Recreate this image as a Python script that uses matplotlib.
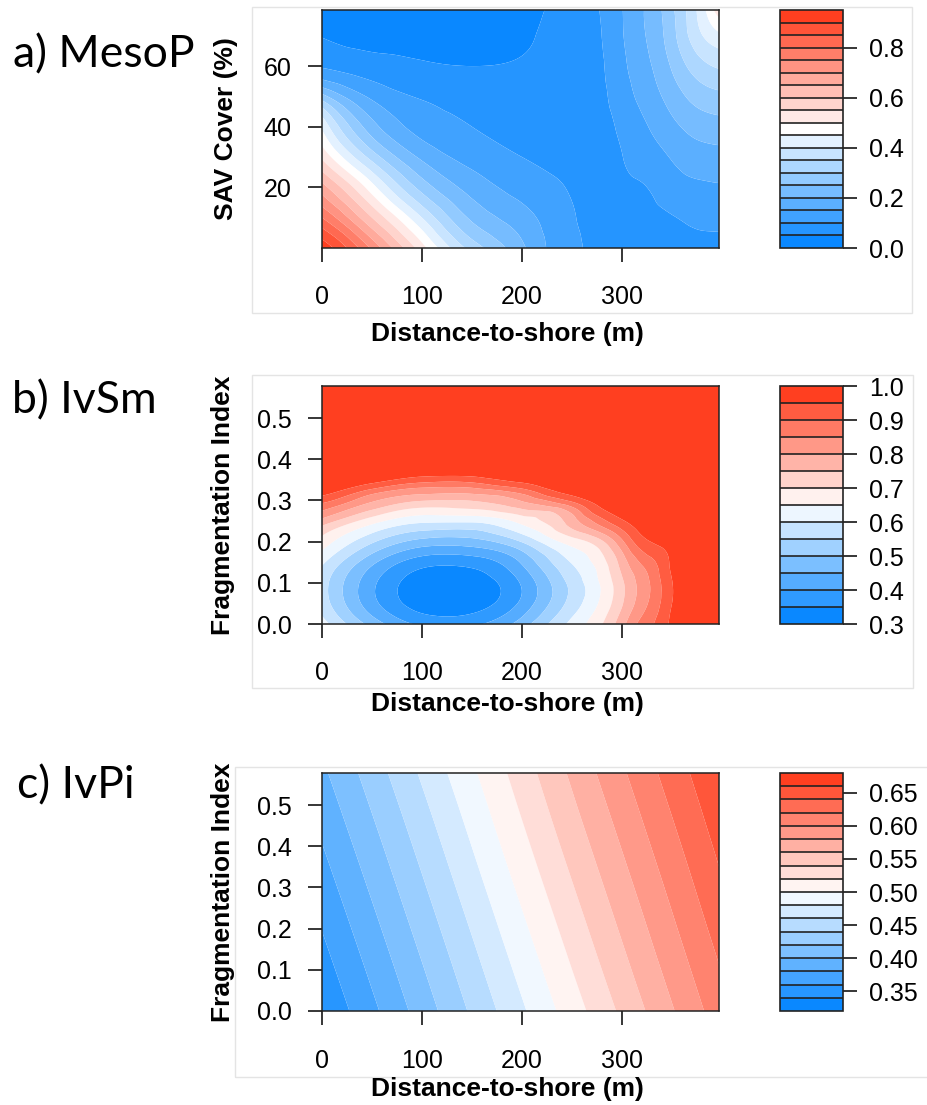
import numpy as np
import matplotlib; matplotlib.use("Agg")
import matplotlib.pyplot as plt
import matplotlib.tri as mtri
from matplotlib.colors import LinearSegmentedColormap
from matplotlib.patches import Rectangle

plt.rcParams["font.family"] = ["Liberation Sans", "DejaVu Sans"]

# ---- data (fitted probability surfaces) ----
# a) MesoP: rows = SAV cover (%), cols = distance-to-shore (m)
dist_a = [0, 50, 100, 150, 200, 250, 275, 300, 325, 350, 375, 397]
sav_a = [0, 10, 20, 30, 40, 50, 60, 70, 78.5]
meso_p = [
    [0.93, 0.74, 0.52, 0.33, 0.21, 0.108, 0.094, 0.085, 0.085, 0.086, 0.087, 0.088],
    [0.80, 0.60, 0.40, 0.24, 0.17, 0.104, 0.090, 0.087, 0.090, 0.098, 0.109, 0.113],
    [0.67, 0.47, 0.28, 0.18, 0.13, 0.095, 0.085, 0.092, 0.100, 0.125, 0.140, 0.145],
    [0.54, 0.33, 0.19, 0.13, 0.10, 0.083, 0.082, 0.099, 0.125, 0.154, 0.177, 0.183],
    [0.44, 0.22, 0.13, 0.10, 0.085, 0.076, 0.082, 0.110, 0.148, 0.187, 0.219, 0.230],
    [0.27, 0.14, 0.095, 0.08, 0.075, 0.072, 0.085, 0.126, 0.172, 0.222, 0.269, 0.287],
    [0.095, 0.07, 0.055, 0.05, 0.055, 0.070, 0.088, 0.138, 0.190, 0.256, 0.326, 0.357],
    [0.048, 0.035, 0.035, 0.035, 0.045, 0.068, 0.092, 0.146, 0.203, 0.282, 0.382, 0.438],
    [0.02, 0.02, 0.02, 0.025, 0.04, 0.067, 0.096, 0.148, 0.207, 0.290, 0.402, 0.530],
]
lev_a = [0.00, 0.05, 0.10, 0.15, 0.20, 0.25, 0.30, 0.35, 0.40, 0.45, 0.50,
         0.55, 0.60, 0.65, 0.70, 0.75, 0.80, 0.85, 0.90, 0.95]

# b) IvSm: rows = fragmentation index
dist_b = [0, 50, 100, 150, 200, 250, 300, 325, 350, 375, 397]
frag_b = [0, 0.05, 0.10, 0.15, 0.20, 0.25, 0.30, 0.325, 0.35, 0.375, 0.40, 0.50, 0.578]
iv_sm = [
    [0.621, 0.481, 0.390, 0.389, 0.476, 0.615, 0.782, 0.883, 0.962, 0.995, 0.996],
    [0.578, 0.418, 0.326, 0.324, 0.413, 0.571, 0.745, 0.847, 0.950, 0.993, 0.996],
    [0.573, 0.413, 0.322, 0.320, 0.407, 0.567, 0.741, 0.840, 0.948, 0.992, 0.996],
    [0.610, 0.463, 0.372, 0.371, 0.457, 0.604, 0.772, 0.874, 0.960, 0.995, 0.996],
    [0.680, 0.558, 0.482, 0.480, 0.554, 0.674, 0.840, 0.944, 0.978, 0.996, 0.996],
    [0.782, 0.671, 0.612, 0.610, 0.667, 0.777, 0.943, 0.986, 0.996, 0.996, 0.996],
    [0.919, 0.808, 0.753, 0.752, 0.804, 0.913, 0.991, 0.996, 0.996, 0.996, 0.996],
    [0.976, 0.888, 0.830, 0.830, 0.885, 0.975, 0.996, 0.996, 0.996, 0.996, 0.996],
    [0.993, 0.969, 0.925, 0.924, 0.967, 0.992, 0.996, 0.996, 0.996, 0.996, 0.996],
    [0.996, 0.991, 0.982, 0.982, 0.991, 0.996, 0.996, 0.996, 0.996, 0.996, 0.996],
    [0.996, 0.996, 0.995, 0.995, 0.996, 0.996, 0.996, 0.996, 0.996, 0.996, 0.996],
    [0.996, 0.996, 0.996, 0.996, 0.996, 0.996, 0.996, 0.996, 0.996, 0.996, 0.996],
    [0.996, 0.996, 0.996, 0.996, 0.996, 0.996, 0.996, 0.996, 0.996, 0.996, 0.996],
]
lev_b = [0.30, 0.35, 0.40, 0.45, 0.50, 0.55, 0.60, 0.65, 0.70, 0.75, 0.80,
         0.85, 0.90, 0.95, 1.00]

# c) IvPi
dist_c = [0, 100, 200, 300, 397]
frag_c = [0, 0.29, 0.578]
iv_pi = [
    [0.342, 0.409, 0.477, 0.544, 0.610],
    [0.369, 0.436, 0.504, 0.571, 0.635],
    [0.396, 0.463, 0.530, 0.597, 0.658],
]
lev_c = [0.32, 0.34, 0.36, 0.38, 0.40, 0.42, 0.44, 0.46, 0.48, 0.50, 0.52,
         0.54, 0.56, 0.58, 0.60, 0.62, 0.64, 0.66, 0.68]

W, H = 927, 1105
fig = plt.figure(figsize=(W / 100, H / 100), dpi=100)
ramp = LinearSegmentedColormap.from_list("ramp", ["#0A88FF", "white", "#FF3F20"])


def box(x0, y0, x1, y1):
    # pixel box (top-left origin) -> figure fraction rect
    return [x0 / W, 1 - y1 / H, (x1 - x0) / W, (y1 - y0) / H]


def grid_tri(xs, ys):
    # regular grid split into two triangles per cell (no Delaunay ambiguity)
    nx, ny = len(xs), len(ys)
    X, Y = np.meshgrid(np.asarray(xs) / max(xs), np.asarray(ys) / max(ys))
    t = []
    for j in range(ny - 1):
        for i in range(nx - 1):
            a = j * nx + i; b = a + 1; c = a + nx; d = c + 1
            t += [[a, b, d], [a, d, c]]
    return mtri.Triangulation(X.ravel(), Y.ravel(), np.array(t))


def panel(top, xs, ys, zz, levels, ylim, yticks, yfmt, ylab, cticks, cfmt,
          title, tpos, frame, xlab_y, ylab_x):
    fig.patches.append(Rectangle((frame[0] / W, 1 - frame[3] / H),
                                 (frame[2] - frame[0]) / W, (frame[3] - frame[1]) / H,
                                 transform=fig.transFigure, fill=False,
                                 ec="#e4e4e4", lw=1.0, zorder=0))
    ax = fig.add_axes(box(322, top, 719, top + 238))
    xm, ym = max(xs), max(ys)
    p = np.asarray(zz, float).ravel()
    z = np.log(p / (1 - p))          # smooth on the logit scale
    tri = grid_tri(xs, ys)
    interp = mtri.CubicTriInterpolator(tri, z, kind="min_E")
    rt, rz = mtri.UniformTriRefiner(tri).refine_field(z, triinterpolator=interp, subdiv=5)
    rt = mtri.Triangulation(rt.x * xm, rt.y * ym, rt.triangles)
    rz = 1 / (1 + np.exp(-rz))
    rz = np.clip(rz, levels[0] + 1e-6, levels[-1] - 1e-6)
    cols = ramp(np.linspace(0, 1, len(levels) - 1))
    cs = ax.tricontourf(rt, rz, levels=levels, colors=cols, antialiased=True)
    ax.set_xlim(0, 397); ax.set_ylim(*ylim)
    ax.set_xticks([0, 100, 200, 300]); ax.set_yticks(yticks)
    ax.set_yticklabels([yfmt % v for v in yticks])
    ax.tick_params(axis="x", direction="out", length=10, width=1.1, labelsize=18, pad=17)
    ax.tick_params(axis="y", direction="out", length=10, width=1.1, labelsize=18, pad=12)
    for s in ax.spines.values():
        s.set_linewidth(1.1); s.set_color("#222222")
    cax = fig.add_axes(box(780, top, 843, top + 238))
    cb = fig.colorbar(cs, cax=cax, ticks=cticks, drawedges=True)
    cb.set_ticklabels([cfmt % v for v in cticks])
    cb.dividers.set_color("#222222"); cb.dividers.set_linewidth(1.2)
    cb.outline.set_linewidth(1.2); cb.outline.set_edgecolor("#222222")
    cax.tick_params(direction="out", length=10, width=1.1, labelsize=18, pad=9)
    fig.text(507 / W, 1 - xlab_y / H, "Distance-to-shore (m)", ha="center",
             va="baseline", fontsize=19, fontweight="bold")
    fig.text(ylab_x / W, 1 - (top + 119) / H, ylab, ha="center", va="center",
             rotation=90, fontsize=19, fontweight="bold")
    fig.text(tpos[0] / W, 1 - tpos[1] / H, title, ha="left", va="baseline",
             fontsize=32, family=["Lato", "DejaVu Sans"])


panel(10, dist_a, sav_a, meso_p, lev_a, (0, 78.5), [20, 40, 60], "%d",
      "SAV Cover (%)", [0.0, 0.2, 0.4, 0.6, 0.8], "%.1f",
      "a) MesoP", (13, 67), (252, 7, 912, 313), 341, 226)
panel(386, dist_b, frag_b, iv_sm, lev_b, (0, 0.578), [0, 0.1, 0.2, 0.3, 0.4, 0.5], "%.1f",
      "Fragmentation Index", [0.3, 0.4, 0.5, 0.6, 0.7, 0.8, 0.9, 1.0], "%.1f",
      "b) IvSm", (12, 413), (252, 375, 913, 688), 711, 223)
panel(773, dist_c, frag_c, iv_pi, lev_c, (0, 0.578), [0, 0.1, 0.2, 0.3, 0.4, 0.5], "%.1f",
      "Fragmentation Index", [0.35, 0.40, 0.45, 0.50, 0.55, 0.60, 0.65], "%.2f",
      "c) IvPi", (17, 798), (235, 767, 930, 1077), 1096, 223)

fig.savefig("out.png", dpi=100)
